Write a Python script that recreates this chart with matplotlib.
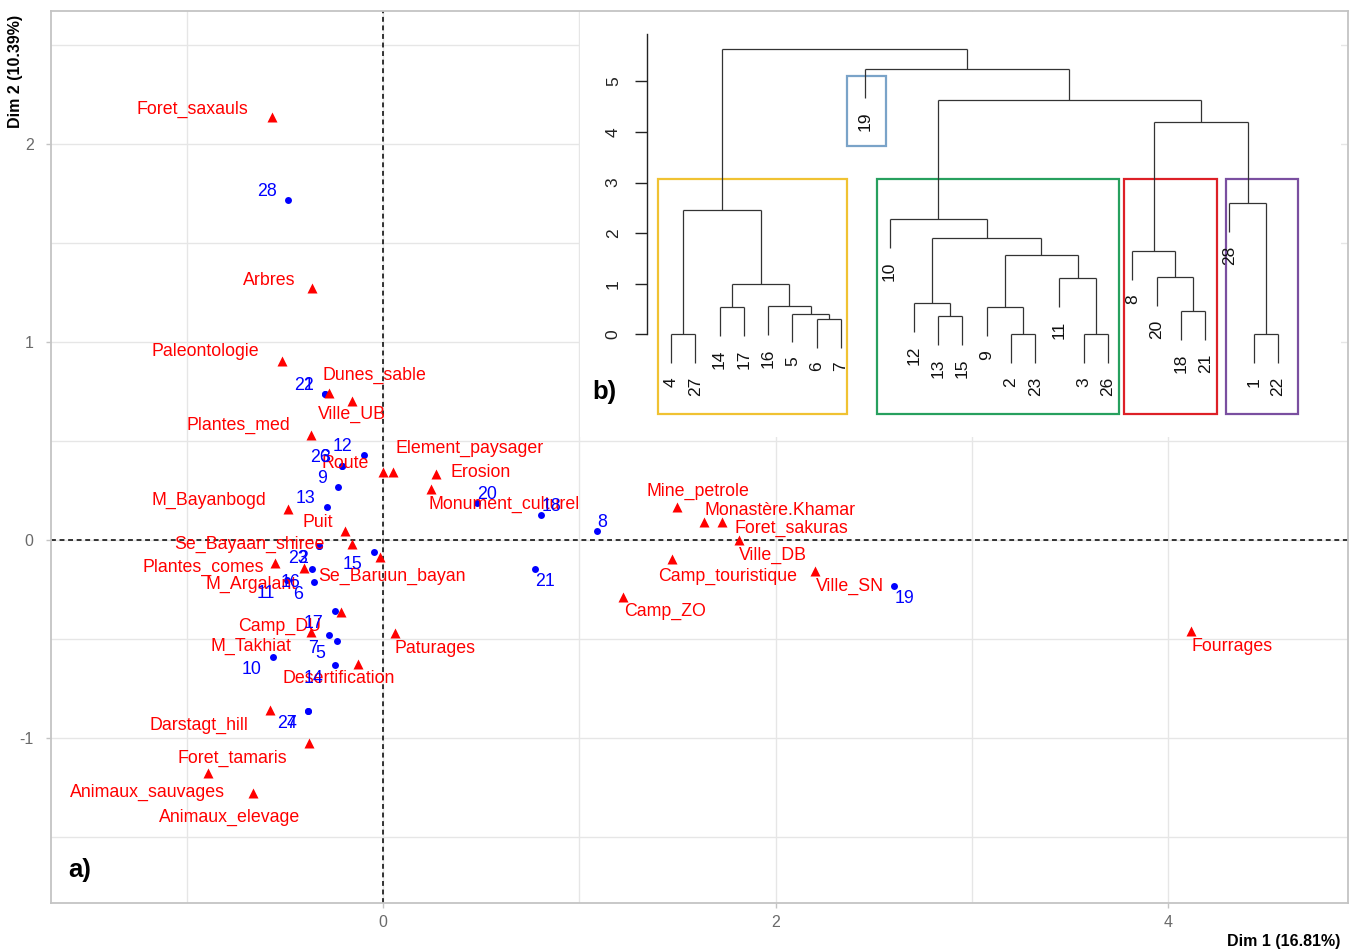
import matplotlib
matplotlib.use("Agg")
import matplotlib.pyplot as plt
from matplotlib.patches import Rectangle

plt.rcParams['font.family'] = ['Liberation Sans', 'DejaVu Sans']
plt.rcParams['axes.unicode_minus'] = False

W, H, DPI = 1358, 951, 100
PX = 72.0 / DPI  # points per pixel

# ---- Correspondence analysis: column (landscape feature) coordinates ----
var_names = ["Foret_saxauls", "Arbres", "Paleontologie", "Dunes_sable", "Ville_UB",
             "Plantes_med", "Route", "Element_paysager", "Erosion", "Monument_culturel",
             "M_Bayanbogd", "Puit", "Se_Bayaan_shiree", "Plantes_comes", "M_Argalant",
             "Se_Baruun_bayan", "Camp_DU", "M_Takhiat", "Paturages", "Desertification",
             "Darstagt_hill", "Foret_tamaris", "Animaux_sauvages", "Animaux_elevage",
             "Mine_petrole", "Monastère.Khamar", "Foret_sakuras", "Ville_DB",
             "Camp_touristique", "Ville_SN", "Camp_ZO", "Fourrages"]
var_dim1 = [-0.567, -0.363, -0.516, -0.274, -0.159,
            -0.368, 0.002, 0.052, 0.270, 0.245,
            -0.486, -0.194, -0.156, -0.550, -0.402,
            -0.015, -0.215, -0.367, 0.061, -0.126,
            -0.576, -0.375, -0.893, -0.661,
            1.496, 1.637, 1.725, 1.815,
            1.474, 2.201, 1.221, 4.115]
var_dim2 = [2.135, 1.271, 0.906, 0.741, 0.704,
            0.530, 0.346, 0.346, 0.332, 0.259,
            0.157, 0.047, -0.020, -0.116, -0.143,
            -0.084, -0.362, -0.463, -0.471, -0.626,
            -0.859, -1.024, -1.178, -1.279,
            0.168, 0.092, 0.092, 0.000,
            -0.097, -0.157, -0.286, -0.460]

# ---- Row (site) coordinates ----
site_ids = [28, 22, 1, 12, 26, 3, 9, 13, 20, 18, 8, 19, 21,
            23, 2, 15, 16, 11, 6, 17, 7, 5, 10, 14, 27, 4]
site_dim1 = [-0.482, -0.295, -0.295, -0.095, -0.210, -0.210, -0.228, -0.287, 0.477, 0.805,
             1.090, 2.603, 0.774,
             -0.325, -0.325, -0.046, -0.363, -0.489, -0.351, -0.245, -0.274, -0.236,
             -0.562, -0.245, -0.381, -0.381]
site_dim2 = [1.717, 0.736, 0.736, 0.429, 0.374, 0.374, 0.266, 0.165, 0.185, 0.126,
             0.044, -0.232, -0.146,
             -0.029, -0.029, -0.059, -0.148, -0.202, -0.211, -0.357, -0.480, -0.509,
             -0.589, -0.631, -0.862, -0.862]

# ---- Hierarchical clustering of sites (hclust-style merge table) ----
leaf_order = [4, 27, 14, 17, 16, 5, 6, 7, 19, 10, 12, 13, 15, 9, 2, 23,
              11, 3, 26, 8, 20, 18, 21, 28, 1, 22]
merge_pairs = [(-4, -27), (-2, -23), (-3, -26), (-1, -22), (-6, -7),
               (-13, -15), (-5, 5), (-18, -21), (-14, -17), (-9, 2),
               (-16, 7), (-12, 6), (9, 11), (-11, 3), (-20, 8),
               (10, 14), (-8, 15), (12, 16), (-10, 18), (1, 13),
               (-28, 4), (17, 21), (19, 22), (-19, 23), (20, 24)]
merge_heights = [0.00, 0.00, 0.00, 0.00, 0.30,
                 0.36, 0.41, 0.46, 0.53, 0.53,
                 0.55, 0.61, 0.99, 1.11, 1.13,
                 1.56, 1.64, 1.90, 2.27, 2.45,
                 2.59, 4.19, 4.64, 5.24, 5.63]

# ---- label placement (pixel offsets: right, down) ----
var_label_offsets = {
    "Foret_saxauls": (-79, -10), "Arbres": (-42, -10), "Paleontologie": (-76, -11),
    "Dunes_sable": (45, -20), "Ville_UB": (0, 12), "Plantes_med": (-72, -11.5),
    "Route": (-38, -10.5), "Element_paysager": (76, -25), "Erosion": (45, -4),
    "Monument_culturel": (73.5, 14), "M_Bayanbogd": (-79, -10.5), "Puit": (-27.5, -10),
    "Se_Bayaan_shiree": (-103, -2), "Plantes_comes": (-72, 2), "M_Argalant": (-52.5, 14),
    "Se_Baruun_bayan": (12, 18), "Camp_DU": (-61, 13), "M_Takhiat": (-60, 13),
    "Paturages": (40, 13), "Desertification": (-20, 12.5), "Darstagt_hill": (-70.5, 13.5),
    "Foret_tamaris": (-77, 13.5), "Animaux_sauvages": (-60.5, 17),
    "Animaux_elevage": (-24, 22), "Mine_petrole": (21, -17.5),
    "Monastère.Khamar": (76, -13), "Foret_sakuras": (70, 4.5), "Ville_DB": (34, 13),
    "Camp_touristique": (55, 15.5), "Ville_SN": (34.5, 13), "Camp_ZO": (42, 12.5),
    "Fourrages": (41, 13),
}
site_label_side = {28: "ul", 22: "ul", 1: "ul", 12: "ul", 26: "ul", 3: "ul", 9: "ul",
                   13: "ul", 20: "ur", 18: "ur", 8: "ur", 19: "lr", 21: "lr"}

RED = "#FF0000"
BLUE = "#0000FF"
GRID = "#E6E6E6"
FRAME = "#C4C4C4"


def fig_rect(x0, y0, x1, y1):
    return [x0 / W, 1 - y1 / H, (x1 - x0) / W, (y1 - y0) / H]


fig = plt.figure(figsize=(W / DPI, H / DPI), dpi=DPI)
fig.patch.set_facecolor("white")

# ======================= a) factor map =======================
ax = fig.add_axes(fig_rect(51, 11, 1348, 903))
ax.set_xlim(-1.691, 4.916)
ax.set_ylim(-1.833, 2.672)

for gx in [-1, 0, 1, 2, 3, 4]:
    ax.axvline(gx, color=GRID, lw=1.0, zorder=0)
for gy in [-1.5, -1, -0.5, 0, 0.5, 1, 1.5, 2, 2.5]:
    ax.axhline(gy, color=GRID, lw=1.0, zorder=0)
ax.axvline(0, color="black", lw=1.1, ls=(0, (3.2, 2.4)), zorder=1)
ax.axhline(0, color="black", lw=1.1, ls=(0, (3.2, 2.4)), zorder=1)

ax.set_xticks([0, 2, 4])
ax.set_yticks([-1, 0, 1, 2])
ax.tick_params(axis="both", colors=FRAME, labelcolor="#6A6A6A", labelsize=11.5,
               length=3.5, width=1.0)
ax.tick_params(axis="x", pad=5)
ax.tick_params(axis="y", pad=9)
for sp in ax.spines.values():
    sp.set_color(FRAME)
    sp.set_linewidth(1.3)

ax.plot(site_dim1, site_dim2, "o", color=BLUE, ms=5, mec="none", zorder=3)
ax.plot(var_dim1, var_dim2, "^", color=RED, ms=6.5, mec="none", zorder=3)

for name, x, y in zip(var_names, var_dim1, var_dim2):
    dx, dy = var_label_offsets[name]
    ax.annotate(name, (x, y), xytext=(dx * PX, -dy * PX), textcoords="offset points",
                ha="center", va="center_baseline", color=RED, fontsize=12.8, zorder=4)

for sid, x, y in zip(site_ids, site_dim1, site_dim2):
    side = site_label_side.get(sid, "ll")
    dy = -11 if side[0] == "u" else 11
    if side[1] == "l":
        dx, ha = -11.5, "right"
    else:
        dx, ha = 0.5, "left"
    ax.annotate(str(sid), (x, y), xytext=(dx * PX, -dy * PX), textcoords="offset points",
                ha=ha, va="center_baseline", color=BLUE, fontsize=12.8, zorder=4)

fig.text(80 / W, 1 - 870 / H, "a)", ha="center", va="center", fontsize=18.5,
         fontweight="bold")
fig.text(1340 / W, 1 - 941.5 / H, "Dim 1 (16.81%)", ha="right", va="center",
         fontsize=11.5, fontweight="bold")
fig.text(16 / W, 1 - 15 / H, "Dim 2 (10.39%)", ha="center", va="top", rotation=90,
         fontsize=11.5, fontweight="bold")

# ======================= b) dendrogram =======================
dax = fig.add_axes(fig_rect(580, 12, 1341, 437), zorder=5)
dax.set_facecolor("white")
dax.set_xlim(-2.747, 28.595)
dax.set_ylim(-2.03, 6.37)
for k in ["top", "right", "bottom"]:
    dax.spines[k].set_visible(False)
dax.spines["left"].set_position(("data", 0))
dax.spines["left"].set_bounds(0, 5.93)
dax.spines["left"].set_linewidth(1.0)
dax.spines["left"].set_color("#222222")
dax.set_xticks([])
dax.set_yticks([0, 1, 2, 3, 4, 5])
dax.set_yticklabels(["0", "1", "2", "3", "4", "5"], rotation=90, va="center")
dax.tick_params(axis="y", length=12 * PX, width=1.0, color="#222222", pad=10,
                labelsize=12.5, labelcolor="#222222")

HANG = 0.565
LINE = dict(color="#333333", lw=0.9, solid_capstyle="butt")
leaf_x = {lab: i + 1 for i, lab in enumerate(leaf_order)}
node_x, node_h = {}, {}
for k, ((a, b), h) in enumerate(zip(merge_pairs, merge_heights), start=1):
    xs = []
    for c in (a, b):
        if c < 0:
            cx = leaf_x[-c]
            bottom = h - HANG
            dax.annotate(str(-c), (cx, bottom), xytext=(0, -14 * PX),
                         textcoords="offset points", rotation=90, ha="center",
                         va="top", fontsize=12.5, color="#111111")
        else:
            cx = node_x[c]
            bottom = node_h[c]
        dax.plot([cx, cx], [bottom, h], **LINE)
        xs.append(cx)
    dax.plot([xs[0], xs[1]], [h, h], **LINE)
    node_x[k] = (xs[0] + xs[1]) / 2
    node_h[k] = h

# cluster frames: (x0, x1, y0, y1, colour)
cluster_boxes = [
    (0.465, 8.25, -1.575, 3.07, "#F0C232"),
    (8.25, 9.855, 3.72, 5.11, "#7AA3C8"),
    (9.485, 19.47, -1.575, 3.07, "#27A05E"),
    (19.66, 23.49, -1.575, 3.07, "#DD2027"),
    (23.87, 26.83, -1.575, 3.07, "#7A4FA0"),
]
for x0, x1, y0, y1, col in cluster_boxes:
    dax.add_patch(Rectangle((x0, y0), x1 - x0, y1 - y0, fill=False, ec=col, lw=1.6))

fig.text(604 / W, 1 - 392 / H, "b)", ha="center", va="center", fontsize=18.5,
         fontweight="bold", zorder=10)

fig.savefig("out.png", dpi=DPI, facecolor="white")
